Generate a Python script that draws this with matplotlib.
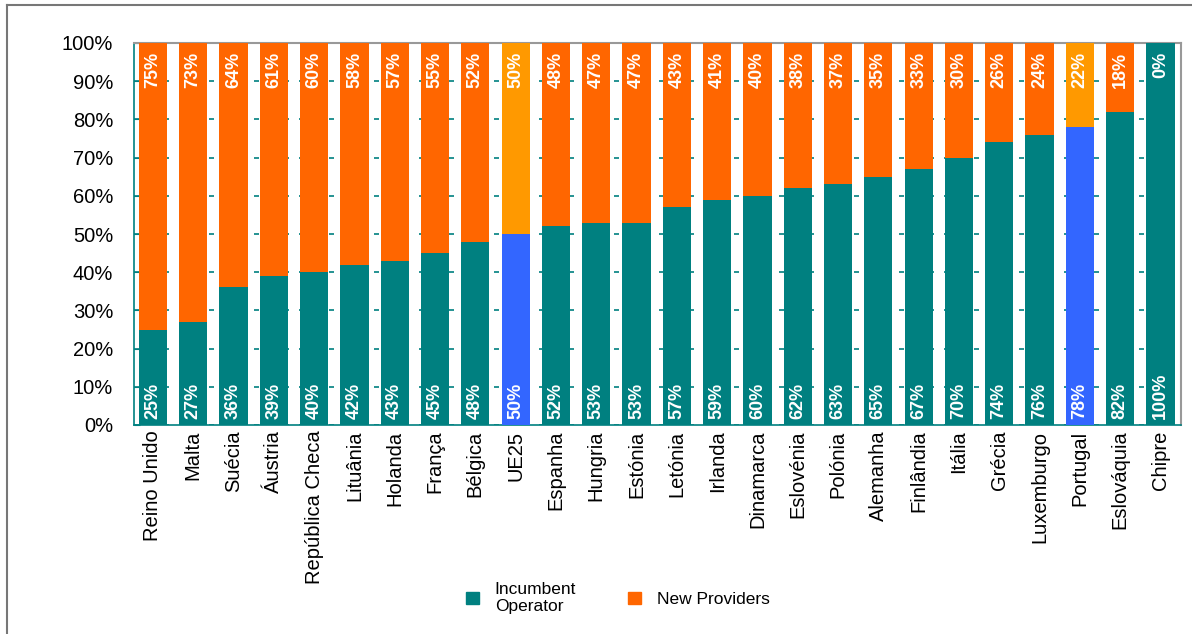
import matplotlib
matplotlib.use("Agg")
import numpy as np
import matplotlib.pyplot as plt
from matplotlib.patches import Patch
from matplotlib.lines import Line2D

# quota de mercado por país
paises = ['Reino Unido', 'Malta', 'Suécia', 'Áustria', 'República Checa', 'Lituânia',
          'Holanda', 'França', 'Bélgica', 'UE25', 'Espanha', 'Hungria', 'Estónia',
          'Letónia', 'Irlanda', 'Dinamarca', 'Eslovénia', 'Polónia', 'Alemanha',
          'Finlândia', 'Itália', 'Grécia', 'Luxemburgo', 'Portugal', 'Eslováquia', 'Chipre']
incumbente = [25, 27, 36, 39, 40, 42, 43, 45, 48, 50, 52, 53, 53, 57, 59, 60, 62, 63,
              65, 67, 70, 74, 76, 78, 82, 100]
novos = [75, 73, 64, 61, 60, 58, 57, 55, 52, 50, 48, 47, 47, 43, 41, 40, 38, 37,
         35, 33, 30, 26, 24, 22, 18, 0]
destaque = ['UE25', 'Portugal']

plt.rcParams['font.family'] = ['Liberation Sans', 'DejaVu Sans']

teal = '#008080'
laranja = '#FF6600'
azul = '#3366FF'
laranja2 = '#FF9900'

fig = plt.figure(figsize=(11.92, 6.34), dpi=100)
ax = fig.add_axes([134 / 1192, 1 - 425 / 634, (1181 - 134) / 1192, (425 - 43) / 634])

x = np.arange(len(paises))
c1 = [azul if p in destaque else teal for p in paises]
c2 = [laranja2 if p in destaque else laranja for p in paises]
ax.bar(x, incumbente, width=0.7, color=c1, zorder=3)
ax.bar(x, novos, width=0.7, bottom=incumbente, color=c2, zorder=3)

lab_font = dict(family=['Liberation Sans Narrow', 'Liberation Sans', 'DejaVu Sans'],
                fontsize=13, fontweight='bold', color='white', rotation=90)
for i in range(len(paises)):
    ax.text(x[i], 1.6, '%d%%' % incumbente[i], ha='center', va='bottom', zorder=4, **lab_font)
    ax.text(x[i], 97.6, '%d%%' % novos[i], ha='center', va='top', zorder=4, **lab_font)

ax.set_xlim(-0.47, 25.51)
ax.set_ylim(0, 100)
ax.set_yticks(range(0, 101, 10))
ax.set_yticklabels(['%d%%' % v for v in range(0, 101, 10)], fontsize=14.5)
ax.set_xticks(x)
ax.set_xticklabels(paises, rotation=90, fontsize=14.5)
ax.tick_params(axis='x', length=0, pad=4)
ax.tick_params(axis='y', length=4, color=teal, pad=15, direction='in')
ax.yaxis.grid(True, color=teal, linestyle=(0, (3, 6)), linewidth=1.2, zorder=1)

for s in ['left', 'bottom']:
    ax.spines[s].set_color(teal)
    ax.spines[s].set_linewidth(1.2)
for s in ['top', 'right']:
    ax.spines[s].set_color('#999999')
    ax.spines[s].set_linewidth(1.5)

# moldura exterior
fig.add_artist(Line2D([7 / 1192, 7 / 1192], [0, 1 - 5 / 634], color='#777777', lw=1.5))
fig.add_artist(Line2D([7 / 1192, 1], [1 - 5 / 634, 1 - 5 / 634], color='#777777', lw=1.5))

handles = [Patch(color=teal, label='Incumbent\nOperator'),
           Patch(color=laranja, label='New Providers')]
fig.legend(handles=handles, loc='center', bbox_to_anchor=(618 / 1192, 1 - 598 / 634),
           ncol=2, frameon=False, fontsize=12.5, handlelength=0.75, handleheight=0.75,
           columnspacing=3.0, handletextpad=0.9)

plt.savefig('out.png', dpi=100)
